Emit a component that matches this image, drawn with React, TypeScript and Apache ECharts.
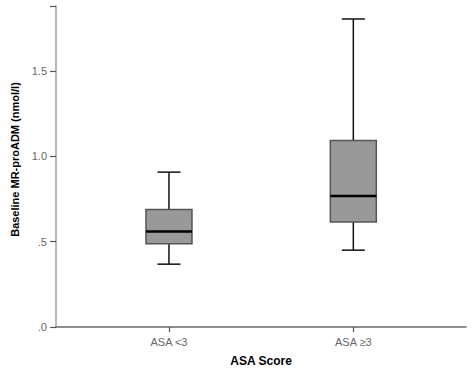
import React, { useEffect, useRef } from "react";
import * as echarts from "echarts";

const categories = ["ASA <3", "ASA ≥3"];
// [min, Q1, median, Q3, max]
const boxStats = [
  [0.368, 0.487, 0.559, 0.688, 0.907],
  [0.45, 0.615, 0.767, 1.092, 1.804],
];
const yTicks = [0, 0.5, 1.0, 1.5];
const yMax = 1.88;

const FONT = "Liberation Sans";

export default function App() {
  const ref = useRef<HTMLDivElement>(null);
  useEffect(() => {
    if (!ref.current) return;
    const chart = echarts.init(ref.current, undefined, { renderer: "svg" });
    const fmt = (v: number) => v.toFixed(1).replace(/^0/, "");
    const option = {
      animation: false,
      backgroundColor: "#ffffff",
      textStyle: { fontFamily: FONT },
      grid: [
        { left: 56, right: 7, top: 6, bottom: 53 },
        { left: 76.8, right: 27.5, top: 6, bottom: 53 },
      ],
      xAxis: [
        {
          gridIndex: 0,
          type: "value",
          min: 0,
          max: 1,
          axisLine: { show: true, lineStyle: { color: "#6a6a6a", width: 1.5 } },
          axisTick: { show: false },
          axisLabel: { show: false },
          splitLine: { show: false },
        },
        {
          gridIndex: 1,
          type: "category",
          data: categories,
          axisLine: { show: false },
          axisTick: { show: true, alignWithLabel: true, length: 5, lineStyle: { color: "#555", width: 1.2 } },
          axisLabel: { color: "#666", fontSize: 11, margin: 9, fontFamily: FONT },
          name: "ASA Score",
          nameLocation: "middle",
          nameGap: 28,
          nameTextStyle: { color: "#000", fontWeight: "bold", fontSize: 12, fontFamily: FONT },
          splitLine: { show: false },
        },
      ],
      yAxis: [
        {
          gridIndex: 0,
          type: "value",
          min: 0,
          max: yMax,
          interval: 0.5,
          axisLine: { show: true, lineStyle: { color: "#b8b8b8", width: 2 } },
          axisTick: { show: true, length: 6, lineStyle: { color: "#555", width: 1.2 } },
          axisLabel: {
            color: "#666",
            fontSize: 11,
            margin: 9,
            fontFamily: FONT,
            formatter: (v: number) => (yTicks.some((t) => Math.abs(t - v) < 1e-9) ? fmt(v) : ""),
          },
          splitLine: { show: false },
          name: "Baseline MR-proADM (nmol/l)",
          nameLocation: "middle",
          nameGap: 31,
          nameTextStyle: { color: "#000", fontWeight: "bold", fontSize: 11, fontFamily: FONT, padding: [0, 0, 0, 14] },
        },
        {
          gridIndex: 1,
          type: "value",
          min: 0,
          max: yMax,
          show: false,
        },
      ],
      series: [
        {
          type: "custom",
          xAxisIndex: 1,
          yAxisIndex: 1,
          data: boxStats.map((s, i) => [i, ...s]),
          encode: { x: 0, y: [1, 2, 3, 4, 5] },
          renderItem: (params: any, api: any) => {
            const idx = api.value(0);
            const pMin = api.coord([idx, api.value(1)]);
            const pQ1 = api.coord([idx, api.value(2)]);
            const pMed = api.coord([idx, api.value(3)]);
            const pQ3 = api.coord([idx, api.value(4)]);
            const pMax = api.coord([idx, api.value(5)]);
            const x = pMed[0];
            const hw = 23;
            const cw = 11.5;
            const wStyle = { stroke: "#111", lineWidth: 1.5 };
            return {
              type: "group",
              children: [
                { type: "line", shape: { x1: x, y1: pMax[1], x2: x, y2: pQ3[1] }, style: wStyle },
                { type: "line", shape: { x1: x, y1: pQ1[1], x2: x, y2: pMin[1] }, style: wStyle },
                { type: "line", shape: { x1: x - cw, y1: pMax[1], x2: x + cw, y2: pMax[1] }, style: wStyle },
                { type: "line", shape: { x1: x - cw, y1: pMin[1], x2: x + cw, y2: pMin[1] }, style: wStyle },
                {
                  type: "rect",
                  shape: { x: x - hw, y: pQ3[1], width: hw * 2, height: pQ1[1] - pQ3[1] },
                  style: { fill: "#999999", stroke: "#555555", lineWidth: 1.5 },
                },
                {
                  type: "line",
                  shape: { x1: x - hw, y1: pMed[1], x2: x + hw, y2: pMed[1] },
                  style: { stroke: "#000", lineWidth: 2.5 },
                },
              ],
            };
          },
        },
      ],
    };
    chart.setOption(option as any);
    return () => chart.dispose();
  }, []);
  return (
    <div
      ref={ref}
      style={{ position: "fixed", left: 0, top: 0, width: 473, height: 380 }}
    />
  );
}
